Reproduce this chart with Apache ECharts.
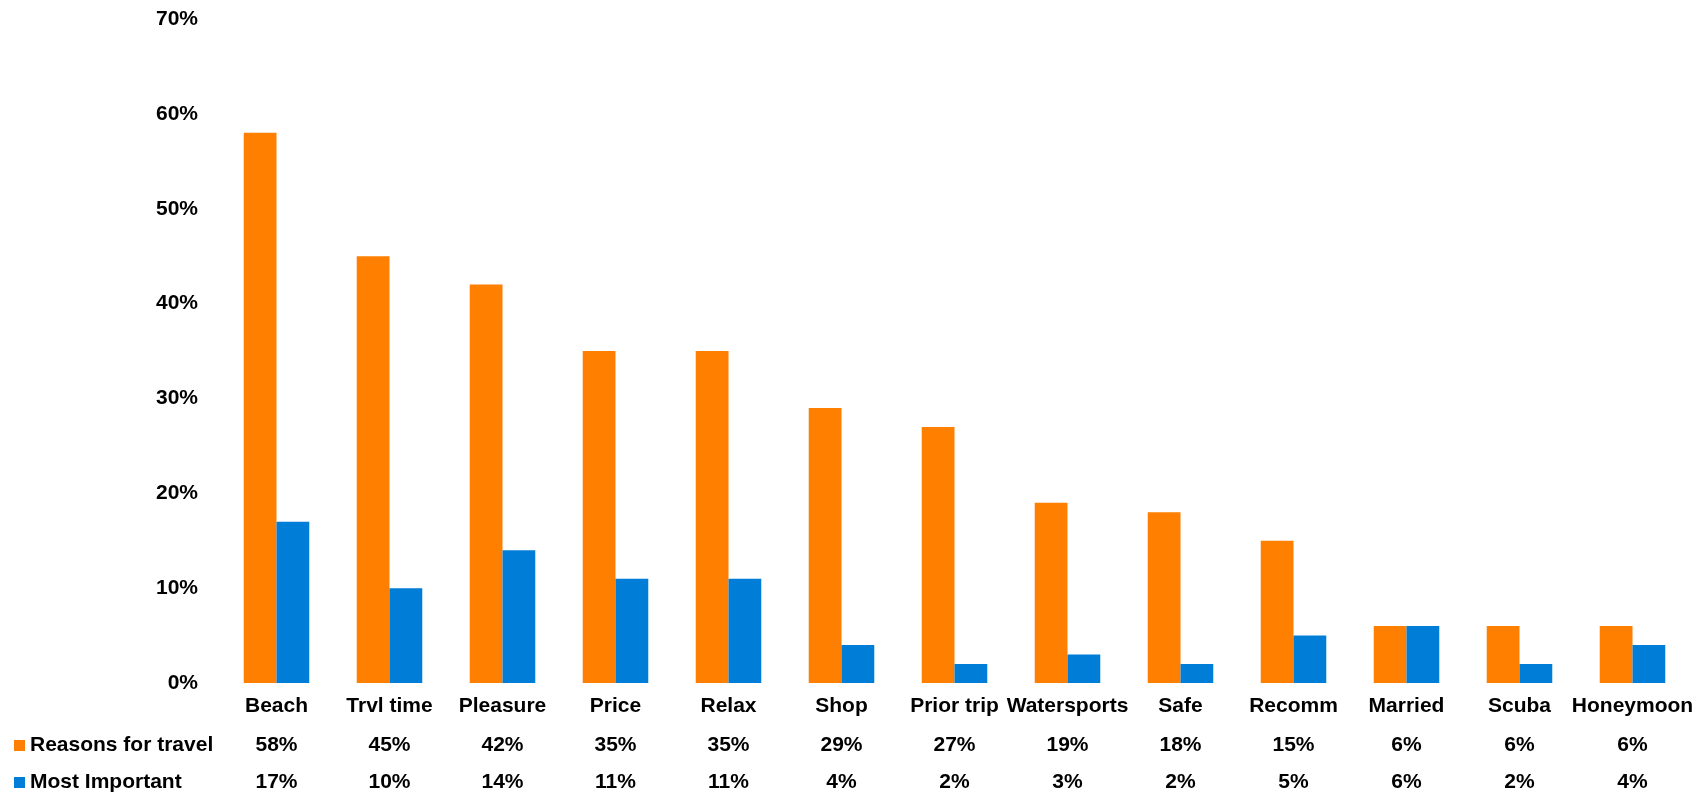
<!DOCTYPE html>
<html>
<head>
<meta charset="utf-8">
<script src="https://cdn.jsdelivr.net/npm/echarts@6/dist/echarts.min.js"></script>
<style>
html,body{margin:0;padding:0;background:#fff;}
#c{width:1707px;height:793px;}
</style>
</head>
<body>
<div id="c"></div>
<script>
const categories = ["Beach","Trvl time","Pleasure","Price","Relax","Shop","Prior trip","Watersports","Safe","Recomm","Married","Scuba","Honeymoon"];
const reasons = [58,45,42,35,35,29,27,19,18,15,6,6,6];
const mostImportant = [17,10,14,11,11,4,2,3,2,5,6,2,4];
const seriesNames = ["Reasons for travel","Most Important"];
const yTicks = {min:0, max:70, interval:10};

const FONT = "'Liberation Sans', Arial, sans-serif";
const lbl = {color:'#000', fontWeight:'bold', fontSize:21, lineHeight:21, fontFamily:FONT};

function tableAxis(values, offset){
  return {
    type:'category', data:categories, gridIndex:0, position:'bottom', offset:offset,
    axisLine:{show:false}, axisTick:{show:false},
    axisLabel:Object.assign({interval:0, margin:13, formatter:(v,i)=>values[i]+'%'}, lbl)
  };
}
function legendRow(name, top){
  return {
    orient:'horizontal', left:14, top:top, itemWidth:11, itemHeight:11, itemGap:5,
    icon:'rect', data:[name], padding:0,
    textStyle:Object.assign({padding:[0,0,0,0]}, lbl)
  };
}

const chart = echarts.init(document.getElementById('c'));
chart.setOption({
  animation:false,
  backgroundColor:'#fff',
  grid:{left:220, right:18, top:19, bottom:109},
  legend:[legendRow(seriesNames[0], 735), legendRow(seriesNames[1], 772)],
  xAxis:[
    {type:'category', data:categories, gridIndex:0, position:'bottom',
     axisLine:{show:false}, axisTick:{show:false},
     axisLabel:Object.assign({interval:0, margin:13}, lbl)},
    tableAxis(reasons, 39),
    tableAxis(mostImportant, 76)
  ],
  yAxis:{
    type:'value', min:yTicks.min, max:yTicks.max, interval:yTicks.interval,
    splitLine:{show:false}, axisLine:{show:false}, axisTick:{show:false},
    axisLabel:Object.assign({margin:22, padding:[4,0,0,0], formatter:'{value}%'}, lbl)
  },
  series:[
    {name:seriesNames[0], type:'bar', xAxisIndex:0, data:reasons, barGap:'0%', barCategoryGap:'42%',
     itemStyle:{color:'#FF7F00'}},
    {name:seriesNames[1], type:'bar', xAxisIndex:0, data:mostImportant, barGap:'0%', barCategoryGap:'42%',
     itemStyle:{color:'#007DD6'}}
  ]
});
</script>
</body>
</html>
